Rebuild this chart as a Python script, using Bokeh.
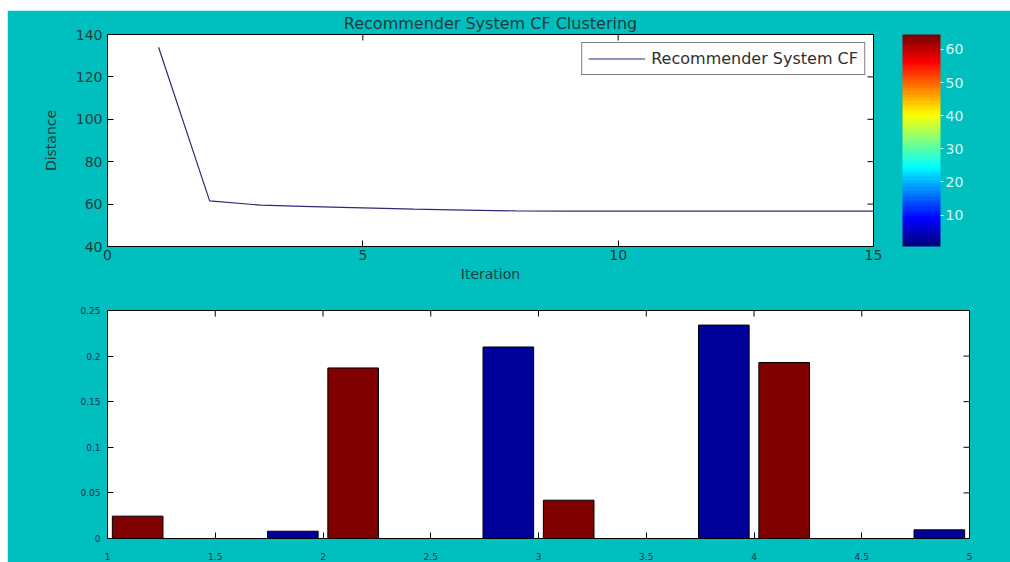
import numpy as np
from bokeh.plotting import figure
from bokeh.models import (ColumnDataSource, ColorBar, LinearColorMapper,
                          FixedTicker, Range1d)
from bokeh.transform import dodge
from bokeh.embed import file_html
from bokeh.resources import INLINE

# ---------------- data ----------------
iterations = list(range(1, 16))
distance = [134.0, 61.5, 59.5, 58.8, 58.2, 57.6, 57.2, 56.8, 56.7, 56.7, 56.7, 56.7, 56.7, 56.7, 56.7]

blue_groups = [2, 3, 4, 5]
blue_values = [0.008, 0.21, 0.234, 0.0095]
red_groups = [1, 2, 3, 4]
red_values = [0.0245, 0.187, 0.042, 0.193]

title_text = "Recommender System CF Clustering"
top_xticks = [0, 5, 10, 15]
top_yticks = [40, 60, 80, 100, 120, 140]
cbar_ticks = [10, 20, 30, 40, 50, 60]
bottom_xticks = [1, 1.5, 2, 2.5, 3, 3.5, 4, 4.5, 5]
bottom_xlabels = ["1", "1.5", "2", "2.5", "3", "3.5", "4", "4.5", "5"]
bottom_yticks = [0, 0.05, 0.1, 0.15, 0.2, 0.25]
bottom_ylabels = ["0", "0.05", "0.1", "0.15", "0.2", "0.25"]

# ---------------- styles ----------------
TEAL = "#00bfbf"
DARK = "#1e3c3c"
NAVY_TXT = "#1c3050"
LIGHT = "#d8f6f6"
LINE = "#2b2b7a"
BLUE = "#00009a"
RED = "#800000"
FONT = "DejaVu Sans"
TICK = 6
FRAME_H1 = 212


def jet(n):
    cols = []
    for i in range(n):
        x = i / (n - 1)
        r = min(max(min(4 * x - 1.5, -4 * x + 4.5), 0), 1)
        g = min(max(min(4 * x - 0.5, -4 * x + 3.5), 0), 1)
        b = min(max(min(4 * x + 0.5, -4 * x + 2.5), 0), 1)
        cols.append("#%02x%02x%02x" % (int(r * 255), int(g * 255), int(b * 255)))
    return cols


def style_axis(ax, ticks, size, color):
    ax.ticker = FixedTicker(ticks=ticks)
    ax.major_tick_in = TICK
    ax.major_tick_out = 0
    ax.minor_tick_line_color = None
    ax.axis_line_color = "black"
    ax.major_tick_line_color = "black"
    ax.major_label_text_font = FONT
    ax.major_label_text_font_size = size
    ax.major_label_text_color = color
    ax.major_label_standoff = 5


def mirror_ticks(p, xticks, yticks):
    # inward tick marks on the top and right edges of the box (matlab style)
    xr, yr = p.x_range, p.y_range
    p.scatter(x=xticks, y=[yr.end] * len(xticks), marker="dash", size=2 * TICK,
              angle=np.pi / 2, line_color="black", line_width=1)
    p.scatter(x=[xr.end] * len(yticks), y=yticks, marker="dash", size=2 * TICK,
              line_color="black", line_width=1)


# ---------------- top plot ----------------
p1 = figure(width=1003, height=280, x_range=Range1d(0, 15), y_range=Range1d(40, 140),
            output_backend="svg", toolbar_location=None,
            min_border_left=100, min_border_top=24, min_border_bottom=44, min_border_right=137,
            background_fill_color="white", border_fill_color=TEAL,
            outline_line_color="black", margin=(10, 0, 0, 7))
p1.grid.visible = False
p1.title.text = title_text
p1.title.align = "center"
p1.title.text_font = FONT
p1.title.text_font_size = "16px"
p1.title.text_font_style = "normal"
p1.title.text_color = DARK
p1.title.standoff = 3

p1.line(iterations, distance, line_color=LINE, line_width=1.2, legend_label="Recommender System CF")
mirror_ticks(p1, top_xticks, top_yticks)
leg = p1.legend[0]
leg.location = "top_right"
leg.margin = 8
leg.border_line_color = "black"
leg.border_line_width = 1
leg.background_fill_color = "white"
leg.label_text_font = FONT
leg.label_text_font_size = "16px"
leg.label_text_color = "#303030"
leg.glyph_width = 57
leg.glyph_height = 17
leg.label_height = 17
leg.padding = 6
leg.label_standoff = 6

style_axis(p1.xaxis[0], top_xticks, "14px", DARK)
style_axis(p1.yaxis[0], top_yticks, "14px", DARK)
p1.xaxis[0].axis_label = "Iteration"
p1.yaxis[0].axis_label = "Distance"
for ax in (p1.xaxis[0], p1.yaxis[0]):
    ax.axis_label_text_font = FONT
    ax.axis_label_text_font_size = "14px"
    ax.axis_label_text_font_style = "normal"
    ax.axis_label_text_color = DARK
p1.xaxis[0].major_label_standoff = 3
p1.xaxis[0].axis_label_standoff = 3
p1.yaxis[0].axis_label_standoff = 14

mapper = LinearColorMapper(palette=jet(64), low=0.5, high=64.5)
cb = ColorBar(color_mapper=mapper, ticker=FixedTicker(ticks=cbar_ticks),
              width=38, height=FRAME_H1, padding=0, margin=0, location=(29, 0),
              major_label_text_color=LIGHT, major_label_text_font=FONT,
              major_label_text_font_size="14px",
              major_tick_line_color=LIGHT, major_tick_in=0, major_tick_out=3,
              minor_tick_line_color=None, bar_line_color=None,
              background_fill_color=None, border_line_color=None, label_standoff=2)
p1.add_layout(cb, "right")

# ---------------- bottom plot ----------------
p2 = figure(width=1003, height=273, x_range=Range1d(1, 5), y_range=Range1d(0, 0.25),
            output_backend="svg", toolbar_location=None,
            min_border_left=100, min_border_top=21, min_border_bottom=24, min_border_right=41,
            background_fill_color="white", border_fill_color=TEAL,
            outline_line_color="black", margin=(-1, 0, 0, 7))
p2.grid.visible = False

blue_src = ColumnDataSource(dict(x=blue_groups, top=blue_values))
red_src = ColumnDataSource(dict(x=red_groups, top=red_values))
p2.vbar(x=dodge("x", -0.14), top="top", width=0.235, bottom=0, source=blue_src,
        fill_color=BLUE, line_color="black", line_width=1)
p2.vbar(x=dodge("x", 0.14), top="top", width=0.235, bottom=0, source=red_src,
        fill_color=RED, line_color="black", line_width=1)
mirror_ticks(p2, bottom_xticks, bottom_yticks)

style_axis(p2.xaxis[0], bottom_xticks, "9px", NAVY_TXT)
style_axis(p2.yaxis[0], bottom_yticks, "9px", NAVY_TXT)
p2.xaxis[0].major_label_overrides = dict(zip(bottom_xticks, bottom_xlabels))
p2.yaxis[0].major_label_overrides = dict(zip(bottom_yticks, bottom_ylabels))
p2.xaxis[0].major_label_standoff = 14
p2.yaxis[0].major_label_standoff = 7

open("out.html", "w").write(file_html([p1, p2], INLINE))
